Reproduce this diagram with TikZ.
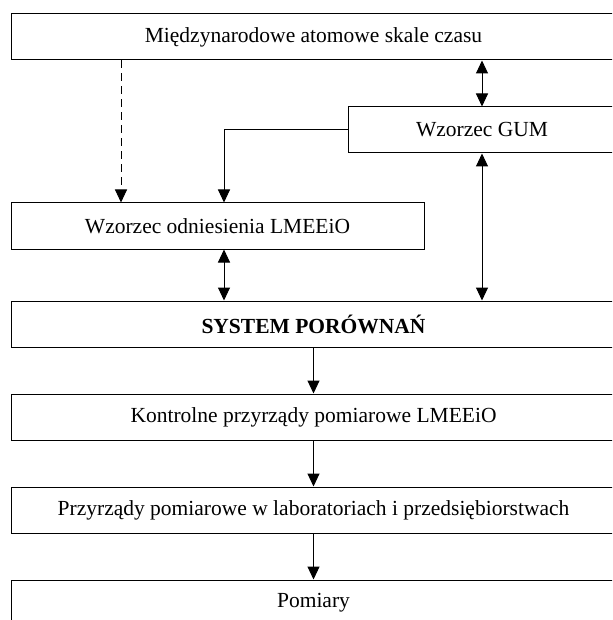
\documentclass[tikz,border=0pt]{standalone}
\usepackage{fontspec}
\setmainfont{Liberation Serif}
\usetikzlibrary{arrows.meta,positioning}

\tikzset{
  >={Triangle[length=13pt,width=12pt]},
  box/.style={draw,line width=1pt,minimum height=46pt,inner sep=0pt,
              font=\fontsize{21.5}{25}\selectfont},
}

\begin{document}
\begin{tikzpicture}[x=1pt,y=-1pt,line width=1pt]
\useasboundingbox (0,0) rectangle (612,620);
\clip (0,0) rectangle (612,620);

% boxes
\node[box,minimum width=605pt] (mas) at (313.5,37)  {Międzynarodowe atomowe skale czasu};
\node[box,minimum width=268pt] (gum) at (482,130)   {Wzorzec GUM};
\node[box,minimum width=413pt] (lme) at (217.5,226) {Wzorzec odniesienia LMEEiO};
\node[box,minimum width=605pt] (sys) at (313.5,324) {\textbf{SYSTEM PORÓWNAŃ}};
\node[box,minimum width=605pt] (kon) at (313.5,417) {Kontrolne przyrządy pomiarowe LMEEiO};
\node[box,minimum width=605pt] (prz) at (313.5,510) {Przyrządy pomiarowe w laboratoriach i przedsiębiorstwach};
\node[box,minimum width=605pt] (pom) at (313.5,603) {Pomiary};

\coordinate (dsh) at (121,0);
\coordinate (elb) at (224,0);

% links
\draw [<->] (gum.north) -- (gum.north |- mas.south);
\draw [<->] (gum.south) -- (gum.south |- sys.north);
\draw [->,dash pattern=on 8pt off 5pt] (dsh |- mas.south) -- (dsh |- lme.north);
\draw [->] (gum.west) -| (elb |- lme.north);
\draw [<->] (elb |- lme.south) -- (elb |- sys.north);
\draw [->] (sys.south) -- (kon.north);
\draw [->] (kon.south) -- (prz.north);
\draw [->] (prz.south) -- (pom.north);
\end{tikzpicture}
\end{document}
